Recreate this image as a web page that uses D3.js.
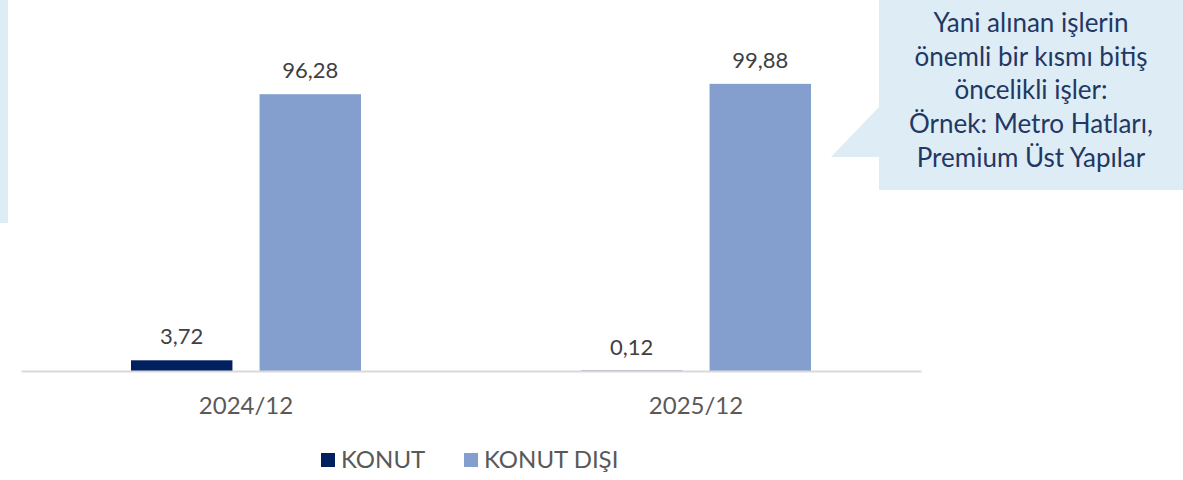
<!DOCTYPE html>
<html>
<head>
<meta charset="utf-8">
<script src="https://cdn.jsdelivr.net/npm/d3@7"></script>
<style>
  body { margin: 0; background: #fff; }
  svg { display: block; font-family: Lato, "Open Sans", sans-serif; }
</style>
</head>
<body>
<div id="chart"></div>
<script>
// veriler
var categories = ["2024/12", "2025/12"];
var seriesNames = ["KONUT", "KONUT DIŞI"];
var konut = [3.72, 0.12];
var konutDisi = [96.28, 99.88];
var noteLines = ["Yani alınan işlerin", "önemli bir kısmı bitiş", "öncelikli işler:", "Örnek: Metro Hatları,", "Premium Üst Yapılar"];

var colors = ["#002060", "#849fcd"];
var width = 1183, height = 480;

var svg = d3.select("#chart").append("svg")
    .attr("width", width)
    .attr("height", height);

// sol taraftaki açık mavi panel
svg.append("rect")
    .attr("x", 0).attr("y", 0)
    .attr("width", 8).attr("height", 223)
    .attr("fill", "#deecf5");

var baseY = 371;
var x0 = d3.scaleBand().domain(categories).range([21, 921])
    .paddingInner(0.4889).paddingOuter(0.4889 / 2);
var x1 = d3.scaleBand().domain(seriesNames).range([0, x0.bandwidth()])
    .paddingInner(0.211).paddingOuter(0);
var y = d3.scaleLinear().domain([0, 120]).range([baseY, baseY - 345]);

var rows = categories.map(function (c, i) {
    return {cat: c, vals: [{s: seriesNames[0], v: konut[i]}, {s: seriesNames[1], v: konutDisi[i]}]};
});

var g = svg.selectAll("g.cat").data(rows).enter().append("g")
    .attr("class", "cat")
    .attr("transform", function (d) { return "translate(" + x0(d.cat) + ",0)"; });

g.selectAll("rect").data(function (d) { return d.vals; }).enter().append("rect")
    .attr("x", function (d) { return x1(d.s); })
    .attr("y", function (d) { return y(d.v); })
    .attr("width", x1.bandwidth())
    .attr("height", function (d) { return baseY - y(d.v); })
    .attr("fill", function (d, i) { return colors[i]; });

g.selectAll("text.val").data(function (d) { return d.vals; }).enter().append("text")
    .attr("class", "val")
    .attr("x", function (d) { return x1(d.s) + x1.bandwidth() / 2; })
    .attr("y", function (d) { return y(d.v) - 16; })
    .attr("text-anchor", "middle")
    .attr("font-size", 22)
    .attr("fill", "#404040")
    .text(function (d) { return d3.format(".2f")(d.v).replace(".", ","); });

// x ekseni
var xAxis = svg.append("g")
    .attr("transform", "translate(0," + baseY + ")")
    .call(d3.axisBottom(x0).tickSize(0).tickPadding(26));
xAxis.select(".domain").attr("stroke", "#d9d9d9").attr("stroke-width", 2);
xAxis.selectAll("text")
    .attr("font-size", 24)
    .attr("fill", "#595959")
    .attr("font-family", "Lato, sans-serif");

// lejant
var legendX = [321, 464];
var lg = svg.selectAll("g.leg").data(seriesNames).enter().append("g")
    .attr("class", "leg")
    .attr("transform", function (d, i) { return "translate(" + legendX[i] + ",453)"; });
lg.append("rect").attr("width", 14).attr("height", 14)
    .attr("fill", function (d, i) { return colors[i]; });
lg.append("text")
    .attr("x", 20).attr("y", 15)
    .attr("font-size", 24)
    .attr("fill", "#595959")
    .text(function (d) { return d; });

// açıklama kutusu
svg.append("rect")
    .attr("x", 879).attr("y", 0)
    .attr("width", width - 879).attr("height", 190)
    .attr("fill", "#deecf5");
svg.append("path")
    .attr("d", "M879,107 L831,157 L880,157 Z")
    .attr("fill", "#deecf5");
svg.append("g").selectAll("text").data(noteLines).enter().append("text")
    .attr("x", 1031)
    .attr("y", function (d, i) { return 32 + i * 33.7; })
    .attr("text-anchor", "middle")
    .attr("font-size", 26)
    .attr("fill", "#1f3864")
    .text(function (d) { return d; });
</script>
</body>
</html>
